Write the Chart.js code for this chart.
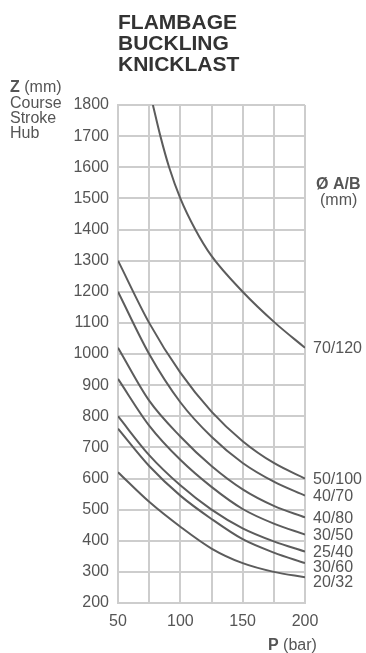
<!DOCTYPE html>
<html>
<head>
<meta charset="utf-8">
<script src="https://cdn.jsdelivr.net/npm/chart.js@4"></script>
<style>
  html, body { margin: 0; padding: 0; background: #fff; }
  #wrap { width: 366px; height: 653px; position: relative; }
</style>
</head>
<body>
<div id="wrap"><canvas id="chart" width="366" height="653"></canvas></div>
<script>
// pressure P (bar) at which the curves were read
const pressures = [50, 75, 100, 125, 150, 175, 200];

// stroke Z (mm) per rod/bore size
const curve50_100 = [1300, 1100, 940, 815, 720, 650, 600];
const curve40_70  = [1200, 1000, 845, 734, 650, 590, 545];
const curve40_80  = [1020, 850, 735, 640, 565, 512, 475];
const curve30_50  = [920, 770, 660, 573, 502, 455, 420];
const curve25_40  = [800, 675, 578, 500, 440, 398, 365];
const curve30_60  = [760, 640, 545, 470, 405, 362, 328];
const curve20_32  = [620, 525, 445, 375, 328, 300, 283];

// the 70/120 curve leaves the top of the chart, so it has its own pressures
const pressures70_120 = [78, 84, 91, 100, 112, 125, 150, 176, 200];
const curve70_120     = [1800, 1700, 1600, 1500, 1400, 1315, 1200, 1100, 1020];

const seriesNames = ["70/120", "50/100", "40/70", "40/80", "30/50", "25/40", "30/60", "20/32"];
const xTickLabels = [50, 100, 150, 200];
const titleLines = ["FLAMBAGE", "BUCKLING", "KNICKLAST"];
const yTitleLines = ["Course", "Stroke", "Hub"];

const FONT = "'Liberation Sans', Arial, sans-serif";
const TEXT = "#555";

function toPoints(xs, ys) {
    return ys.map((y, i) => ({ x: xs[i], y }));
}

const allSeries = [
    toPoints(pressures70_120, curve70_120),
    toPoints(pressures, curve50_100),
    toPoints(pressures, curve40_70),
    toPoints(pressures, curve40_80),
    toPoints(pressures, curve30_50),
    toPoints(pressures, curve25_40),
    toPoints(pressures, curve30_60),
    toPoints(pressures, curve20_32)
];

// Titles and curve labels
const labelsPlugin = {
    id: "labels",
    afterDraw(chart) {
        const c = chart.ctx;
        const area = chart.chartArea;
        const ys = chart.scales.y;
        c.save();
        c.textBaseline = "alphabetic";
        c.textAlign = "left";

        c.fillStyle = "#333";
        c.font = "bold 21px " + FONT;
        titleLines.forEach((t, i) => c.fillText(t, area.left, 29 + i * 21));

        // Y axis title
        c.fillStyle = TEXT;
        c.font = "bold 16px " + FONT;
        c.fillText("Z", 10, 92);
        const zw = c.measureText("Z ").width;
        c.font = "16px " + FONT;
        c.fillText("(mm)", 10 + zw, 92);
        yTitleLines.forEach((t, i) => c.fillText(t, 10, 108 + i * 15));

        // legend heading
        c.font = "bold 16px " + FONT;
        c.fillText("Ø A/B", 316, 189);
        c.font = "16px " + FONT;
        c.fillText("(mm)", 320, 205);

        // X axis title
        c.font = "bold 16px " + FONT;
        c.fillText("P", 268, 650);
        const pw = c.measureText("P ").width;
        c.font = "16px " + FONT;
        c.fillText("(bar)", 268 + pw, 650);

        // curve labels at curve ends, kept at least 15px apart
        c.textBaseline = "middle";
        let prev = -Infinity;
        chart.data.datasets.forEach((ds) => {
            const last = ds.data[ds.data.length - 1];
            let y = ys.getPixelForValue(last.y);
            if (y - prev < 15) y = prev + 15;
            prev = y;
            c.fillText(ds.label, area.right + 8, y + 1);
        });
        c.restore();
    }
};

new Chart(document.getElementById("chart"), {
    type: "line",
    data: {
        datasets: allSeries.map((pts, i) => ({
            label: seriesNames[i],
            data: pts,
            borderColor: "#5c5c5c",
            borderWidth: 2,
            pointRadius: 0,
            fill: false,
            cubicInterpolationMode: "monotone"
        }))
    },
    options: {
        responsive: false,
        animation: false,
        layout: { padding: { left: 0, right: 61, top: 105, bottom: 20 } },
        plugins: { legend: { display: false }, tooltip: { enabled: false } },
        scales: {
            x: {
                type: "linear",
                min: 50,
                max: 200,
                afterFit: (s) => { s.height = 30; },
                grid: { color: "#cdcdcd", lineWidth: 2, drawTicks: false },
                border: { color: "#cdcdcd", width: 2 },
                ticks: {
                    stepSize: 25,
                    padding: 9,
                    autoSkip: false,
                    maxRotation: 0,
                    minRotation: 0,
                    color: TEXT,
                    font: { family: FONT, size: 16 },
                    callback: (v) => xTickLabels.includes(v) ? String(v) : ""
                }
            },
            y: {
                min: 200,
                max: 1800,
                afterFit: (s) => { s.width = 118; },
                grid: { color: "#cdcdcd", lineWidth: 2, drawTicks: false },
                border: { color: "#cdcdcd", width: 2 },
                ticks: {
                    stepSize: 100,
                    padding: 9,
                    color: TEXT,
                    font: { family: FONT, size: 16 },
                    callback: (v) => String(v)
                }
            }
        }
    },
    plugins: [labelsPlugin]
});
</script>
</body>
</html>
